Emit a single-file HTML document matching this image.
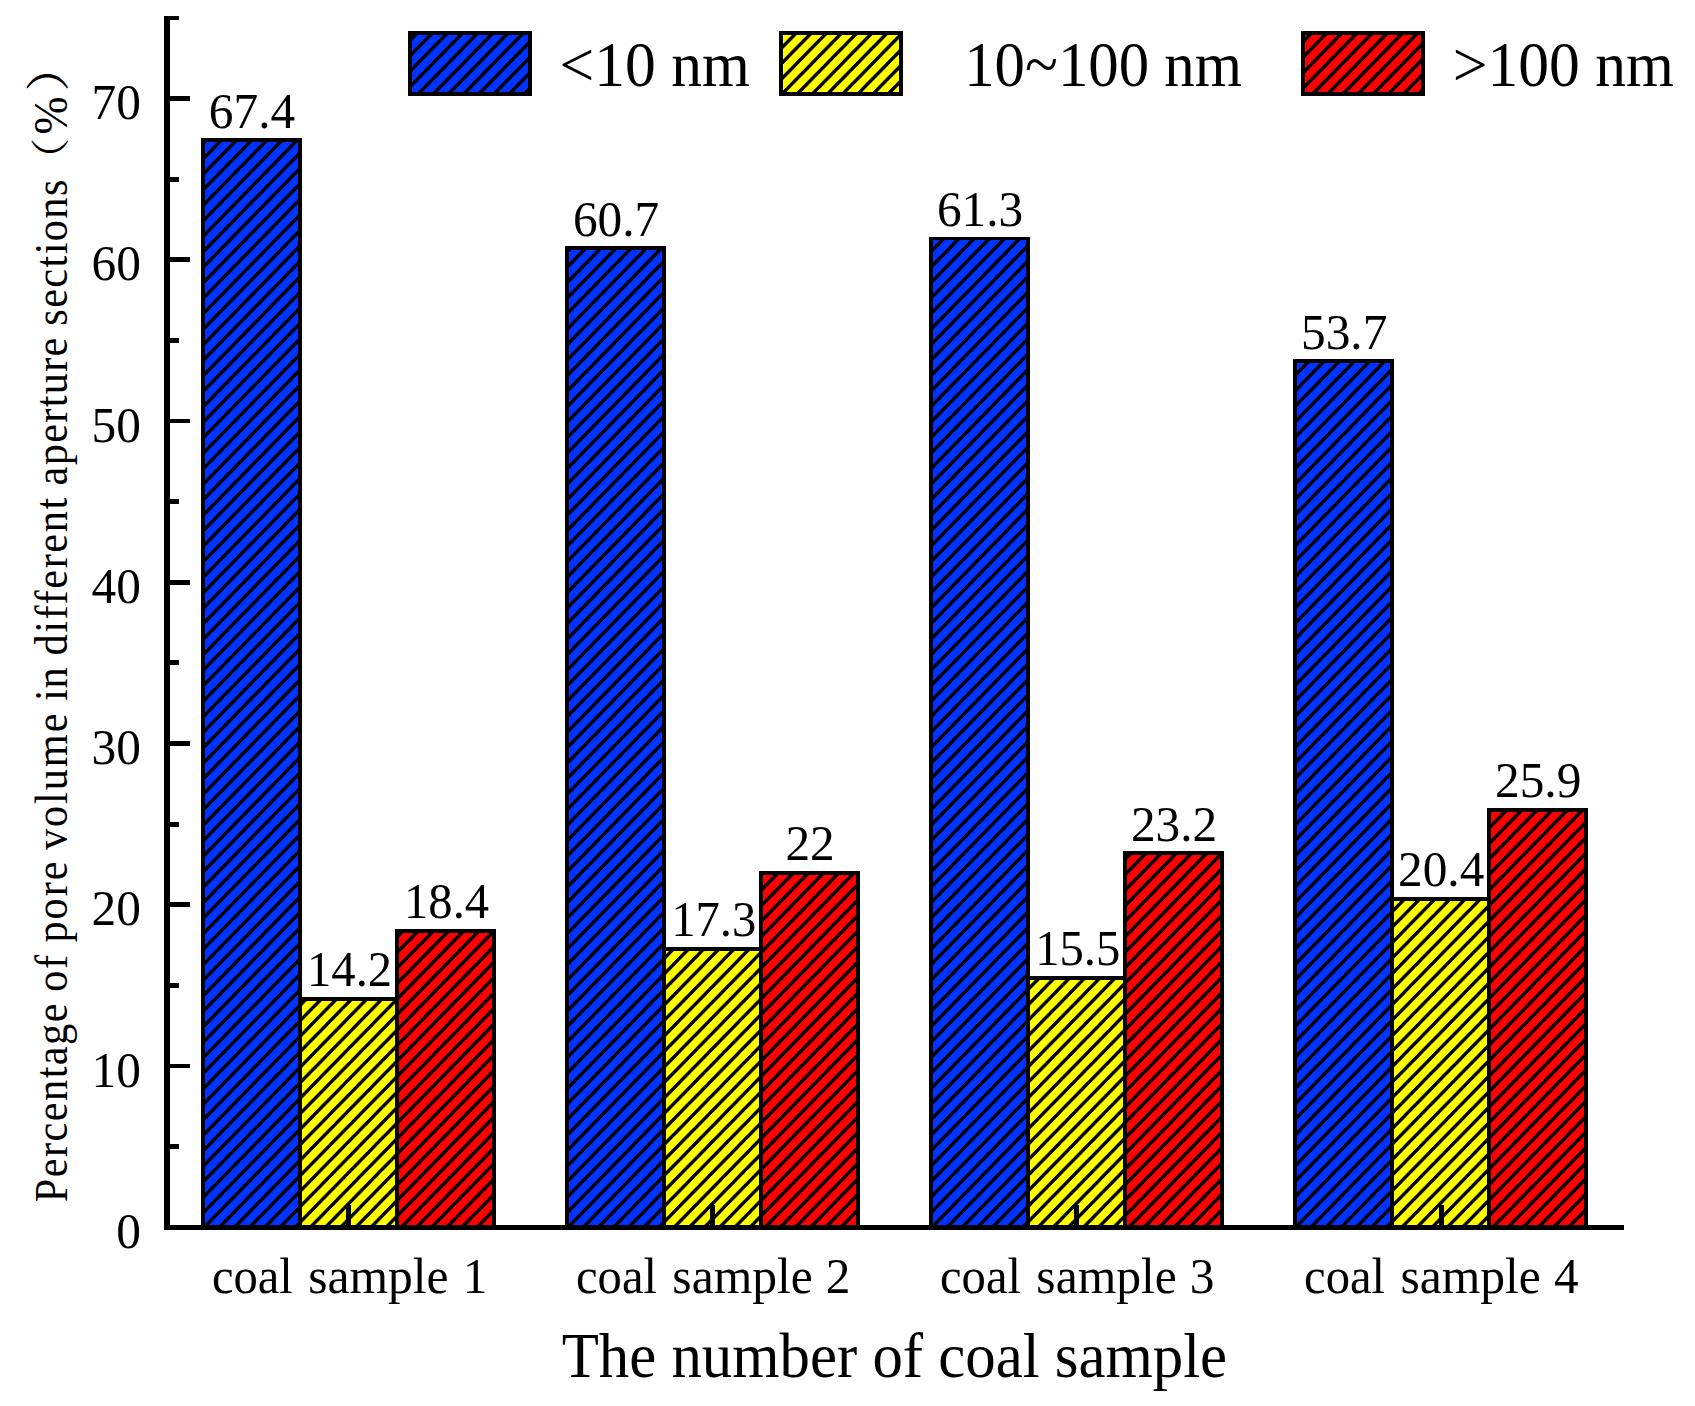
<!DOCTYPE html>
<html><head><meta charset="utf-8"><title>Pore volume percentage</title>
<style>
html,body{margin:0;padding:0;background:#fff}
svg{display:block}
text{font-family:"Liberation Serif","Noto Serif CJK SC",serif;fill:#000;white-space:pre}
</style></head><body>
<svg width="1695" height="1406" viewBox="0 0 1695 1406">
<rect width="1695" height="1406" fill="#fff"/>
<defs>
<pattern id="h" patternUnits="userSpaceOnUse" x="9.85" y="0" width="15.16" height="15.5"><g stroke="#000" stroke-width="2.9" shape-rendering="crispEdges"><line x1="-15.16" y1="31.0" x2="30.32" y2="-15.5"/><line x1="-30.32" y1="31.0" x2="15.16" y2="-15.5"/><line x1="0" y1="31.0" x2="45.480000000000004" y2="-15.5"/></g></pattern>
</defs>
<g shape-rendering="crispEdges">
<rect x="202.90" y="140.00" width="97.00" height="1087.30" fill="#0033ff"/>
<rect x="202.90" y="140.00" width="97.00" height="1087.30" fill="url(#h)" stroke="#000" stroke-width="3.9"/>
<rect x="299.90" y="998.70" width="97.00" height="228.60" fill="#ffff00"/>
<rect x="299.90" y="998.70" width="97.00" height="228.60" fill="url(#h)" stroke="#000" stroke-width="3.9"/>
<rect x="396.90" y="930.91" width="97.00" height="296.39" fill="#ff0000"/>
<rect x="396.90" y="930.91" width="97.00" height="296.39" fill="url(#h)" stroke="#000" stroke-width="3.9"/>
<rect x="567.00" y="248.14" width="97.00" height="979.16" fill="#0033ff"/>
<rect x="567.00" y="248.14" width="97.00" height="979.16" fill="url(#h)" stroke="#000" stroke-width="3.9"/>
<rect x="664.00" y="948.66" width="97.00" height="278.64" fill="#ffff00"/>
<rect x="664.00" y="948.66" width="97.00" height="278.64" fill="url(#h)" stroke="#000" stroke-width="3.9"/>
<rect x="761.00" y="872.80" width="97.00" height="354.50" fill="#ff0000"/>
<rect x="761.00" y="872.80" width="97.00" height="354.50" fill="url(#h)" stroke="#000" stroke-width="3.9"/>
<rect x="931.00" y="238.46" width="97.00" height="988.84" fill="#0033ff"/>
<rect x="931.00" y="238.46" width="97.00" height="988.84" fill="url(#h)" stroke="#000" stroke-width="3.9"/>
<rect x="1028.00" y="977.71" width="97.00" height="249.59" fill="#ffff00"/>
<rect x="1028.00" y="977.71" width="97.00" height="249.59" fill="url(#h)" stroke="#000" stroke-width="3.9"/>
<rect x="1125.00" y="853.43" width="97.00" height="373.87" fill="#ff0000"/>
<rect x="1125.00" y="853.43" width="97.00" height="373.87" fill="url(#h)" stroke="#000" stroke-width="3.9"/>
<rect x="1295.10" y="361.13" width="97.00" height="866.17" fill="#0033ff"/>
<rect x="1295.10" y="361.13" width="97.00" height="866.17" fill="url(#h)" stroke="#000" stroke-width="3.9"/>
<rect x="1392.10" y="898.62" width="97.00" height="328.68" fill="#ffff00"/>
<rect x="1392.10" y="898.62" width="97.00" height="328.68" fill="url(#h)" stroke="#000" stroke-width="3.9"/>
<rect x="1489.10" y="809.85" width="97.00" height="417.45" fill="#ff0000"/>
<rect x="1489.10" y="809.85" width="97.00" height="417.45" fill="url(#h)" stroke="#000" stroke-width="3.9"/>
<rect x="409.95" y="32.95" width="120.10" height="61.10" fill="#0033ff"/>
<rect x="409.95" y="32.95" width="120.10" height="61.10" fill="url(#h)" stroke="#000" stroke-width="3.9"/>
<rect x="780.75" y="32.95" width="120.30" height="61.10" fill="#ffff00"/>
<rect x="780.75" y="32.95" width="120.30" height="61.10" fill="url(#h)" stroke="#000" stroke-width="3.9"/>
<rect x="1303.45" y="32.95" width="119.60" height="61.10" fill="#ff0000"/>
<rect x="1303.45" y="32.95" width="119.60" height="61.10" fill="url(#h)" stroke="#000" stroke-width="3.9"/>
<rect x="163.95" y="16" width="5.9" height="1213.80" fill="#000"/>
<rect x="163.95" y="1224.80" width="1460.15" height="5" fill="#000"/>
<rect x="166.90" y="1224.85" width="23.10" height="4.9" fill="#000"/>
<rect x="166.90" y="1144.21" width="12.10" height="4.9" fill="#000"/>
<rect x="166.90" y="1063.58" width="23.10" height="4.9" fill="#000"/>
<rect x="166.90" y="982.94" width="12.10" height="4.9" fill="#000"/>
<rect x="166.90" y="902.31" width="23.10" height="4.9" fill="#000"/>
<rect x="166.90" y="821.67" width="12.10" height="4.9" fill="#000"/>
<rect x="166.90" y="741.04" width="23.10" height="4.9" fill="#000"/>
<rect x="166.90" y="660.40" width="12.10" height="4.9" fill="#000"/>
<rect x="166.90" y="579.77" width="23.10" height="4.9" fill="#000"/>
<rect x="166.90" y="499.14" width="12.10" height="4.9" fill="#000"/>
<rect x="166.90" y="418.50" width="23.10" height="4.9" fill="#000"/>
<rect x="166.90" y="337.87" width="12.10" height="4.9" fill="#000"/>
<rect x="166.90" y="257.23" width="23.10" height="4.9" fill="#000"/>
<rect x="166.90" y="176.60" width="12.10" height="4.9" fill="#000"/>
<rect x="166.90" y="95.96" width="23.10" height="4.9" fill="#000"/>
<rect x="166.90" y="16" width="12.10" height="3.9" fill="#000"/>
<rect x="346.30" y="1204.5" width="5" height="22.80" fill="#000"/>
<rect x="710.40" y="1204.5" width="5" height="22.80" fill="#000"/>
<rect x="1074.40" y="1204.5" width="5" height="22.80" fill="#000"/>
<rect x="1438.50" y="1204.5" width="5" height="22.80" fill="#000"/>
</g>
<g>
<text transform="translate(116.29,1247.90) scale(0.9720,1)" font-size="50.8">0</text>
<text transform="translate(91.60,1086.63) scale(0.9720,1)" font-size="50.8">10</text>
<text transform="translate(91.60,925.36) scale(0.9720,1)" font-size="50.8">20</text>
<text transform="translate(91.60,764.09) scale(0.9720,1)" font-size="50.8">30</text>
<text transform="translate(91.60,602.82) scale(0.9720,1)" font-size="50.8">40</text>
<text transform="translate(91.60,441.55) scale(0.9720,1)" font-size="50.8">50</text>
<text transform="translate(91.60,280.28) scale(0.9720,1)" font-size="50.8">60</text>
<text transform="translate(91.60,119.01) scale(0.9720,1)" font-size="50.8">70</text>
</g>
<g>
<text transform="translate(208.82,127.50) scale(0.9870,1)" font-size="50">67.4</text>
<text transform="translate(307.07,986.20) scale(0.9723,1)" font-size="50">14.2</text>
<text transform="translate(404.07,918.41) scale(0.9726,1)" font-size="50">18.4</text>
<text transform="translate(572.92,235.64) scale(0.9870,1)" font-size="50">60.7</text>
<text transform="translate(671.17,936.16) scale(0.9724,1)" font-size="50">17.3</text>
<text transform="translate(785.43,860.30) scale(0.9870,1)" font-size="50">22</text>
<text transform="translate(936.92,225.96) scale(0.9870,1)" font-size="50">61.3</text>
<text transform="translate(1035.17,965.21) scale(0.9724,1)" font-size="50">15.5</text>
<text transform="translate(1130.92,840.93) scale(0.9870,1)" font-size="50">23.2</text>
<text transform="translate(1301.02,348.63) scale(0.9870,1)" font-size="50">53.7</text>
<text transform="translate(1398.02,886.12) scale(0.9870,1)" font-size="50">20.4</text>
<text transform="translate(1495.02,797.35) scale(0.9870,1)" font-size="50">25.9</text>
</g>
<g>
<text transform="translate(211.90,1292.80) scale(0.9726,1)" font-size="50">coal </text>
<text transform="translate(308.27,1292.80) scale(0.9913,1)" font-size="50">sample </text>
<text transform="translate(462.85,1292.80) scale(0.987,1)" font-size="50">1</text>
<text transform="translate(576.00,1292.80) scale(0.9726,1)" font-size="50">coal </text>
<text transform="translate(672.37,1292.80) scale(0.9913,1)" font-size="50">sample </text>
<text transform="translate(825.80,1292.80) scale(0.987,1)" font-size="50">2</text>
<text transform="translate(940.00,1292.80) scale(0.9726,1)" font-size="50">coal </text>
<text transform="translate(1036.37,1292.80) scale(0.9913,1)" font-size="50">sample </text>
<text transform="translate(1189.80,1292.80) scale(0.987,1)" font-size="50">3</text>
<text transform="translate(1304.10,1292.80) scale(0.9726,1)" font-size="50">coal </text>
<text transform="translate(1400.47,1292.80) scale(0.9913,1)" font-size="50">sample </text>
<text transform="translate(1553.90,1292.80) scale(0.987,1)" font-size="50">4</text>
</g>
<text transform="translate(561.71,1377.10) scale(0.9656,1)" font-size="63">The number of coal sample</text>
<text transform="translate(559.48,85.60) scale(0.9776,1)" font-size="63">&lt;10 nm</text>
<text transform="translate(964.21,85.60) scale(0.9655,1)" font-size="63">10~100 nm</text>
<text transform="translate(1452.72,85.60) scale(0.9775,1)" font-size="63">&gt;100 nm</text>
<g transform="translate(67.0,1201.1) rotate(-90)">
<text transform="translate(-1.09,0) scale(0.9076,1)" font-size="46.7" letter-spacing="1.570">Percentage </text>
<text transform="translate(209.39,0) scale(0.9076,1)" font-size="46.7" letter-spacing="1.700">of </text>
<text transform="translate(258.52,0) scale(0.9076,1)" font-size="46.7" letter-spacing="2.167">pore </text>
<text transform="translate(351.10,0) scale(0.9076,1)" font-size="46.7" letter-spacing="2.068">volume </text>
<text transform="translate(500.21,0) scale(0.9076,1)" font-size="46.7" letter-spacing="0.606">in </text>
<text transform="translate(545.57,0) scale(0.9076,1)" font-size="46.7" letter-spacing="1.751">different </text>
<text transform="translate(715.72,0) scale(0.9076,1)" font-size="46.7" letter-spacing="1.412">aperture </text>
<text transform="translate(875.36,0) scale(0.9076,1)" font-size="46.7" letter-spacing="1.520">sections</text>
</g>
<g transform="translate(67.9,1201.1) rotate(-90)">
<text transform="translate(1019.38,-4.31) scale(0.4411,0.3903)" font-size="100">（</text>
<text transform="translate(1066.64,-1.3) scale(0.9433,1)" font-size="48.5">%</text>
<text transform="translate(1109.45,-3.90) scale(0.5071,0.4441)" font-size="100">）</text>
</g>
</svg></body></html>
